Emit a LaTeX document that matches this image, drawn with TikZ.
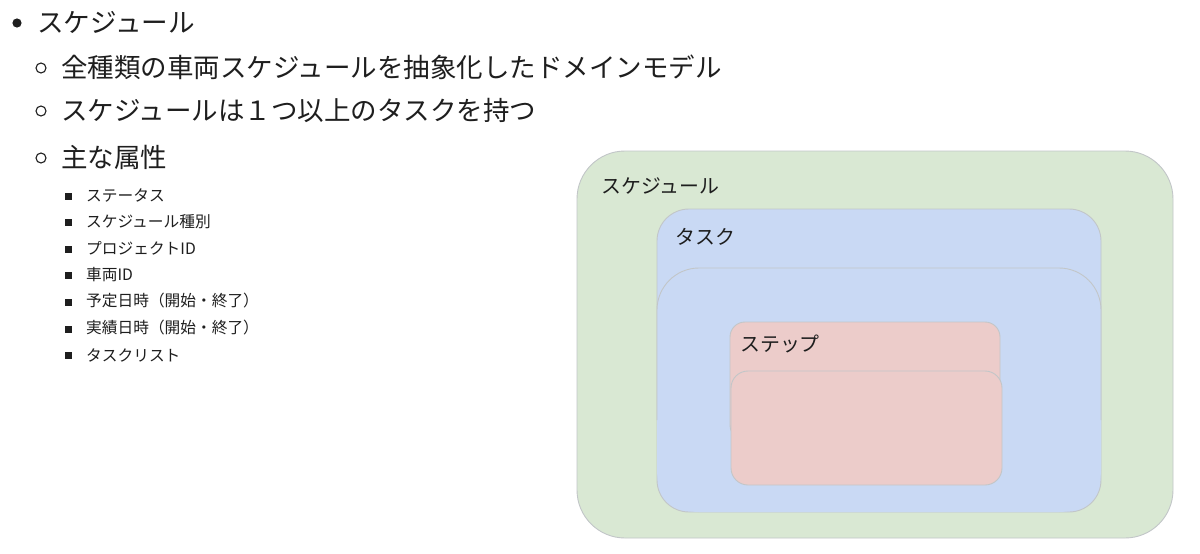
\documentclass[tikz,border=0pt]{standalone}
\usepackage{fontspec}
\setmainfont{Noto Sans CJK JP}
\definecolor{greenfill}{HTML}{D9E8D3}
\definecolor{bluefill}{HTML}{C9D9F4}
\definecolor{redfill}{HTML}{ECCCCA}
\definecolor{edgegray}{HTML}{C2C6C8}
\definecolor{txt}{HTML}{1E1E1E}
\tikzset{
  box/.style={draw=edgegray, line width=0.9pt},
  lvlone/.style={anchor=west, inner sep=0pt, text=txt, font=\fontsize{26.6}{27}\selectfont},
  lvltwo/.style={anchor=west, inner sep=0pt, text=txt, font=\fontsize{26.5}{27}\selectfont},
  lvlthree/.style={anchor=west, inner sep=0pt, text=txt, font=\fontsize{15.7}{16}\selectfont},
  boxlabel/.style={anchor=west, inner sep=0pt, text=txt, font=\fontsize{19.9}{20}\selectfont},
}
\begin{document}
\begin{tikzpicture}[x=1pt, y=-1pt]
\useasboundingbox[fill=white] (0,0) rectangle (1200,554);
% bullets
\fill[txt] (17,23) circle (4.6);
\foreach \yy in {68,111,158} \draw[txt, line width=1.1pt] (41,\yy) circle (5);
\foreach \yy in {196,222,249,275,302,329,355} \fill[txt] (65,\yy-3.5) rectangle (72,\yy+3.5);
% text
\node[lvlone] (t1) at (37,22) {スケジュール};
\node[lvltwo] (t2) at (61,67) {全種類の車両スケジュールを抽象化したドメインモデル};
\node[lvltwo] (t3) at (61,110) {スケジュールは１つ以上のタスクを持つ};
\node[lvltwo] (t4) at (61,157) {主な属性};
\node[lvlthree] (a1) at (86,195) {ステータス};
\node[lvlthree] (a2) at (86,222) {スケジュール種別};
\node[lvlthree] (a3) at (86,248) {プロジェクトID};
\node[lvlthree] (a4) at (86,275) {車両ID};
\node[lvlthree] (a5) at (86,301) {予定日時（開始・終了）};
\node[lvlthree] (a6) at (86,328) {実績日時（開始・終了）};
\node[lvlthree] (a7) at (86,355) {タスクリスト};
% diagram
\draw[box, fill=greenfill, rounded corners=48] (577,151) rectangle (1173,538);
\node[boxlabel] (lsched) at (601,186) {スケジュール};
\draw[box, fill=bluefill, rounded corners=32] (657,209) rectangle (1101,512);
\node[boxlabel] (ltask) at (675,237) {タスク};
\fill[bluefill, rounded corners=42] (657,268) rectangle (1101,512);
\draw[box, rounded corners=42] (657,420) -- (657,268) -- (1101,268) -- (1101,420);
\draw[box, fill=redfill, rounded corners=15] (730,322) rectangle (1000,440);
\node[boxlabel] (lstep) at (740,344) {ステップ};
\draw[box, fill=redfill, rounded corners=17] (731,371) rectangle (1002,485);
\end{tikzpicture}
\end{document}
